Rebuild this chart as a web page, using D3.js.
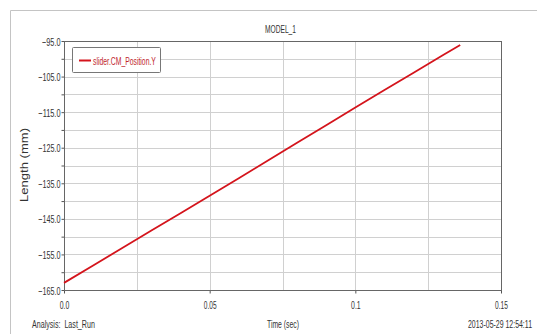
<!DOCTYPE html>
<html><head><meta charset="utf-8">
<script src="https://cdn.jsdelivr.net/npm/d3@7"></script>
<style>
html,body{margin:0;padding:0;background:#fff;}
svg{display:block;}
</style></head>
<body>
<script>
const title = "MODEL_1";
const seriesName = "slider.CM_Position.Y";
const timeValues = [0, 0.01, 0.02, 0.03, 0.04, 0.05, 0.06, 0.07, 0.08, 0.09, 0.10, 0.11, 0.12, 0.13, 0.136];
const positionValues = [-163.0, -158.1, -153.2, -148.3, -143.4, -138.5, -133.6, -128.6, -123.6, -118.7, -113.7, -108.8, -103.9, -99.0, -96.1];
const yTickValues = [-165, -155, -145, -135, -125, -115, -105, -95];
const yGridValues = [-165, -160, -155, -150, -145, -140, -135, -130, -125, -120, -115, -110, -105, -100, -95];
const xTickValues = [0, 0.05, 0.1, 0.15];
const xGridValues = [0, 0.025, 0.05, 0.075, 0.1, 0.125, 0.15];
const xTickLabels = ["0.0", "0.05", "0.1", "0.15"];
const yAxisTitle = "Length (mm)";
const xAxisTitle = "Time (sec)";
const analysisLabel = "Analysis:  Last_Run";
const timestampLabel = "2013-05-29 12:54:11";

const W = 537, H = 334;
const plot = {left: 64, top: 41, right: 501, bottom: 290};
const font = "'Liberation Sans',Arial,sans-serif";

const svg = d3.select("body").append("svg").attr("width", W).attr("height", H);

// place a horizontally condensed text (the reference uses a narrow font)
function narrowText(parent, str, x0, y0, width, anchor, color, rotate) {
  const t = parent.append("text").text(str)
    .attr("font-family", font).attr("font-size", 11.5).attr("fill", color || "#333")
    .attr("text-anchor", anchor || "start").style("white-space", "pre");
  const natural = t.node().getComputedTextLength() || width;
  const s = width / natural;
  t.attr("transform", `translate(${x0},${y0})${rotate ? " rotate(" + rotate + ")" : ""} scale(${s},1)`);
  return t;
}

// outer frame
svg.append("path").attr("d", `M10.5,${H} L10.5,10.5 L${W},10.5`)
  .attr("fill","none").attr("stroke","#c4c4c4").attr("stroke-width",1);

const x = d3.scaleLinear().domain([0, 0.15]).range([plot.left, plot.right]);
const y = d3.scaleLinear().domain([-165, -95]).range([plot.bottom, plot.top]);

// grid
const g = svg.append("g");
g.selectAll("line.hg").data(yGridValues).join("line")
  .attr("x1", plot.left).attr("x2", plot.right)
  .attr("y1", d => Math.round(y(d))+0.5).attr("y2", d => Math.round(y(d))+0.5)
  .attr("stroke", "#d0d0d0").attr("stroke-width", 1);
g.selectAll("line.vg").data(xGridValues).join("line")
  .attr("y1", plot.top).attr("y2", plot.bottom)
  .attr("x1", d => Math.round(x(d))+0.5).attr("x2", d => Math.round(x(d))+0.5)
  .attr("stroke", "#d0d0d0").attr("stroke-width", 1);

// axes (ticks from d3 axis, labels condensed)
const yAxis = d3.axisLeft(y).tickValues(yGridValues).tickSize(3).tickFormat("");
const ya = svg.append("g").attr("transform", `translate(${plot.left+0.5},0)`).call(yAxis);
ya.select(".domain").remove();
ya.selectAll("line").attr("stroke", "#555");
ya.selectAll(".tick").each(function(d){
  if (yTickValues.includes(d)) {
    const str = d3.format(".1f")(d);
    narrowText(d3.select(this), str, -4, 4, str.length * 3.7, "end");
  }
});

const xAxis = d3.axisBottom(x).tickValues(xTickValues).tickSize(3).tickFormat("");
const xa = svg.append("g").attr("transform", `translate(0,${plot.bottom+0.5})`).call(xAxis);
xa.select(".domain").remove();
xa.selectAll("line").attr("stroke", "#555");
xa.selectAll(".tick").each(function(d, i){
  const str = xTickLabels[i];
  narrowText(d3.select(this), str, 0, 18.5, str.length * 3.2, "middle");
});

// plot border
svg.append("rect").attr("x", plot.left+0.5).attr("y", plot.top+0.5)
  .attr("width", plot.right-plot.left).attr("height", plot.bottom-plot.top)
  .attr("fill","none").attr("stroke","#666").attr("stroke-width",1);

// series
const data = timeValues.map((t,i) => ({t, v: positionValues[i]}));
svg.append("path").datum(data)
  .attr("fill","none").attr("stroke","#d4141c").attr("stroke-width",1.8)
  .attr("d", d3.line().x(d => x(d.t)).y(d => y(d.v)));

// legend
const lg = svg.append("g");
lg.append("rect").attr("x", 72.5).attr("y", 47.5).attr("width", 88).attr("height", 25)
  .attr("fill","#fff").attr("stroke","#777").attr("stroke-width",1).attr("rx",1);
lg.append("line").attr("x1", 79).attr("x2", 91).attr("y1", 60.5).attr("y2", 60.5)
  .attr("stroke","#d4141c").attr("stroke-width",2);
narrowText(lg, seriesName, 93, 65, 63, "start", "#c0262d");

// title
narrowText(svg, title, 265, 33, 31, "start");

// y title
narrowText(svg, yAxisTitle, 28, 165, 74, "middle", "#333", -90);

// bottom labels
narrowText(svg, analysisLabel, 32, 328, 63, "start");
narrowText(svg, xAxisTitle, 267, 328, 32, "start");
narrowText(svg, timestampLabel, 532, 328, 64, "end");
</script>
</body></html>
